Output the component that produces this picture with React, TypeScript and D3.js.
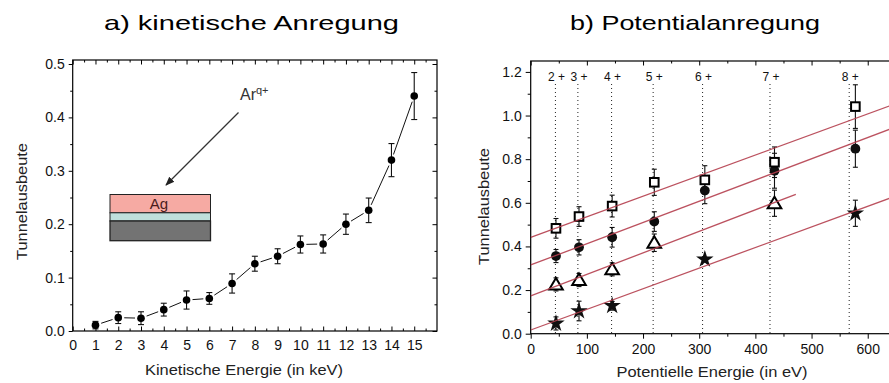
import React, { useEffect, useRef } from 'react';
import * as d3 from 'd3';

// a) kinetische Anregung
const kinEnergy = [1, 2, 3, 4, 5, 6, 7, 8, 9, 10, 11, 12, 13, 14, 15];
const kinYield = [0.011, 0.025, 0.024, 0.040, 0.058, 0.061, 0.089, 0.126, 0.140, 0.162, 0.163, 0.200, 0.226, 0.320, 0.440];
const kinErr = [0.007, 0.011, 0.012, 0.012, 0.017, 0.011, 0.018, 0.014, 0.014, 0.016, 0.017, 0.019, 0.023, 0.031, 0.044];
const kinXTicks = [0, 1, 2, 3, 4, 5, 6, 7, 8, 9, 10, 11, 12, 13, 14, 15];
const kinYTicks = [0, 0.1, 0.2, 0.3, 0.4, 0.5];

// b) Potentialanregung
const chargeStates = ['2+', '3+', '4+', '5+', '6+', '7+', '8+'];
const chargeLineE = [44, 84, 144, 218, 306, 426, 567];
const potEnergy = [45, 86, 145, 220, 310, 434, 578];
const squareYield = [0.483, 0.537, 0.585, 0.694, 0.705, 0.786, 1.041];
const squareErr = [0.045, 0.045, 0.05, 0.06, 0.065, 0.07, 0.1];
const circleYield = [0.356, 0.396, 0.442, 0.514, 0.656, 0.747, 0.848];
const circleErr = [0.03, 0.035, 0.045, 0.045, 0.06, 0.08, 0.085];
const triangleYield = [0.226, 0.246, 0.295, 0.417, null, 0.598, null];
const triangleErr = [0.03, 0.03, 0.03, 0.04, null, 0.06, null];
const starYield = [0.047, 0.104, 0.128, null, 0.341, null, 0.552];
const starErr = [0.03, 0.045, 0.02, null, 0.01, null, 0.06];
const fitIntercept = [0.442, 0.315, 0.173, 0.017];
const fitEnd = [640, 640, 472, 640];
const fitEndYield = [1.045, 0.938, 0.639, 0.622];
const potXTicks = [0, 100, 200, 300, 400, 500, 600];
const potYTicks = [0, 0.2, 0.4, 0.6, 0.8, 1.0, 1.2];

const FONT = '"Liberation Sans", Arial, sans-serif';
const FIT_COLOR = '#b5404f';

export default function App() {
  const svgRef = useRef<SVGSVGElement>(null);

  useEffect(() => {
    if (!svgRef.current) return;
    const svg = d3.select(svgRef.current);
    svg.selectAll('*').remove();

    // Titles
    svg.append('text').attr('x', 104).attr('y', 30)
      .attr('textLength', 295).attr('lengthAdjust', 'spacingAndGlyphs')
      .style('font-size', '21px').text('a) kinetische Anregung');
    svg.append('text').attr('x', 570).attr('y', 30)
      .attr('textLength', 250).attr('lengthAdjust', 'spacingAndGlyphs')
      .style('font-size', '21px').text('b) Potentialanregung');

    // ---------- Left chart ----------
    const x1 = d3.scaleLinear().domain([0, 16]).range([72.7, 437]);
    const y1 = d3.scaleLinear().domain([0, 0.5075]).range([331, 60]);
    const g1 = svg.append('g');

    const styleAxis = (sel: any, size = '14px') => {
      sel.select('.domain').remove();
      sel.selectAll('.tick line').attr('stroke', '#000');
      sel.selectAll('.tick text').style('font-size', size).style('font-family', FONT).attr('fill', '#111');
    };

    // minor ticks
    g1.append('g').attr('transform', `translate(0,${y1(0)})`)
      .call(d3.axisBottom(x1).tickValues(d3.range(0.5, 16, 1)).tickSize(-2.5).tickFormat(() => ''))
      .call(styleAxis);
    g1.append('g').attr('transform', `translate(0,${y1.range()[1]})`)
      .call(d3.axisTop(x1).tickValues(d3.range(0.5, 16, 1)).tickSize(-2.5).tickFormat(() => ''))
      .call(styleAxis);
    g1.append('g').attr('transform', `translate(0,${y1.range()[1]})`)
      .call(d3.axisTop(x1).tickValues(kinXTicks).tickSize(-4.5).tickFormat(() => ''))
      .call(styleAxis);
    g1.append('g').attr('transform', `translate(${x1.range()[1]},0)`)
      .call(d3.axisRight(y1).tickValues(d3.range(0.05, 0.5, 0.1)).tickSize(-2.5).tickFormat(() => ''))
      .call(styleAxis);
    g1.append('g').attr('transform', `translate(${x1.range()[1]},0)`)
      .call(d3.axisRight(y1).tickValues(kinYTicks).tickSize(-4.5).tickFormat(() => ''))
      .call(styleAxis);
    g1.append('g').attr('transform', `translate(${x1(0)},0)`)
      .call(d3.axisLeft(y1).tickValues(d3.range(0.05, 0.5, 0.1)).tickSize(2.5).tickFormat(() => ''))
      .call(styleAxis);

    // major ticks + labels
    g1.append('g').attr('transform', `translate(0,${y1(0)})`)
      .call(d3.axisBottom(x1).tickValues(kinXTicks).tickSize(-4.5).tickPadding(9).tickFormat(d3.format('d')))
      .call(styleAxis);
    g1.append('g').attr('transform', `translate(${x1(0)},0)`)
      .call(d3.axisLeft(y1).tickValues(kinYTicks).tickSize(4).tickPadding(4).tickFormat(d3.format('.1f')))
      .call(styleAxis);

    g1.append('rect')
      .attr('x', x1.range()[0]).attr('y', y1.range()[1])
      .attr('width', x1.range()[1] - x1.range()[0]).attr('height', y1.range()[0] - y1.range()[1])
      .attr('fill', 'none').attr('stroke', '#000').attr('stroke-width', 1.2);

    // axis titles
    g1.append('text').attr('x', 244).attr('y', 375).attr('text-anchor', 'middle')
      .attr('textLength', 198).attr('lengthAdjust', 'spacingAndGlyphs')
      .style('font-size', '15.5px').attr('fill', '#222').text('Kinetische Energie (in keV)');
    g1.append('text').attr('transform', 'translate(27,201.5) rotate(-90)').attr('text-anchor', 'middle')
      .attr('textLength', 117).attr('lengthAdjust', 'spacingAndGlyphs')
      .style('font-size', '15.5px').attr('fill', '#222').text('Tunnelausbeute');

    // inset sample
    const inset = g1.append('g');
    inset.append('rect').attr('x', 110).attr('y', 194.5).attr('width', 100.5).attr('height', 18.3)
      .attr('fill', '#f6aaa3').attr('stroke', '#222').attr('stroke-width', 1);
    inset.append('rect').attr('x', 110).attr('y', 212.8).attr('width', 100.5).attr('height', 8.2)
      .attr('fill', '#bfe0dc').attr('stroke', '#222').attr('stroke-width', 1);
    inset.append('rect').attr('x', 110).attr('y', 221).attr('width', 100.5).attr('height', 19.7)
      .attr('fill', '#737373').attr('stroke', '#222').attr('stroke-width', 1.3);
    inset.append('text').attr('x', 159).attr('y', 209).attr('text-anchor', 'middle')
      .style('font-size', '15px').attr('fill', '#4a1c1c').text('Ag');

    // arrow + ion label
    svg.append('defs').append('marker').attr('id', 'arrowhead')
      .attr('viewBox', '0 0 10 10').attr('refX', 9).attr('refY', 5)
      .attr('markerWidth', 7).attr('markerHeight', 7).attr('orient', 'auto')
      .append('path').attr('d', 'M0,1 L10,5 L0,9 Z').attr('fill', '#222');
    inset.append('line').attr('x1', 238.5).attr('y1', 112.5).attr('x2', 166).attr('y2', 185)
      .attr('stroke', '#333').attr('stroke-width', 1.3).attr('marker-end', 'url(#arrowhead)');
    const ion = inset.append('text').attr('x', 240).attr('y', 100).style('font-size', '16px').attr('fill', '#333');
    ion.append('tspan').text('Ar');
    ion.append('tspan').attr('dy', -6).style('font-size', '11px').text('q+');

    // connecting line with gaps near the markers
    const kinPts = kinEnergy.map((e, i) => [x1(e), y1(kinYield[i])]);
    for (let i = 0; i < kinPts.length - 1; i++) {
      const [ax, ay] = kinPts[i];
      const [bx, by] = kinPts[i + 1];
      const len = Math.hypot(bx - ax, by - ay);
      const gap = 6;
      if (len <= gap * 2) continue;
      const ux = (bx - ax) / len;
      const uy = (by - ay) / len;
      g1.append('line')
        .attr('x1', ax + ux * gap).attr('y1', ay + uy * gap)
        .attr('x2', bx - ux * gap).attr('y2', by - uy * gap)
        .attr('stroke', '#111').attr('stroke-width', 1);
    }

    // error bars
    const eb1 = g1.append('g').attr('stroke', '#111').attr('stroke-width', 1.1);
    kinEnergy.forEach((e, i) => {
      const cx = x1(e);
      const top = y1(kinYield[i] + kinErr[i]);
      const bot = y1(Math.max(0, kinYield[i] - kinErr[i]));
      eb1.append('line').attr('x1', cx).attr('x2', cx).attr('y1', top).attr('y2', bot);
      eb1.append('line').attr('x1', cx - 3).attr('x2', cx + 3).attr('y1', top).attr('y2', top);
      eb1.append('line').attr('x1', cx - 3).attr('x2', cx + 3).attr('y1', bot).attr('y2', bot);
    });

    g1.selectAll('.kin-dot').data(kinEnergy).enter().append('circle')
      .attr('class', 'kin-dot')
      .attr('cx', d => x1(d)).attr('cy', (d, i) => y1(kinYield[i]))
      .attr('r', 3.8).attr('fill', '#000');

    // ---------- Right chart ----------
    const x2 = d3.scaleLinear().domain([0, 640]).range([530.7, 890.2]);
    const y2 = d3.scaleLinear().domain([0, 1.25]).range([333.7, 61]);
    const g2 = svg.append('g');
    const clip = svg.select('defs').append('clipPath').attr('id', 'plot2');
    clip.append('rect').attr('x', x2.range()[0]).attr('y', y2.range()[1])
      .attr('width', x2.range()[1] - x2.range()[0]).attr('height', y2.range()[0] - y2.range()[1]);

    g2.append('g').attr('transform', `translate(0,${y2(0)})`)
      .call(d3.axisBottom(x2).tickValues(d3.range(50, 640, 100)).tickSize(3).tickFormat(() => ''))
      .call(styleAxis);
    g2.append('g').attr('transform', `translate(0,${y2.range()[1]})`)
      .call(d3.axisTop(x2).tickValues(potXTicks).tickSize(-4.5).tickFormat(() => ''))
      .call(styleAxis);
    g2.append('g').attr('transform', `translate(0,${y2.range()[1]})`)
      .call(d3.axisTop(x2).tickValues(d3.range(50, 640, 100)).tickSize(-2.5).tickFormat(() => ''))
      .call(styleAxis);
    g2.append('g').attr('transform', `translate(${x2(0)},0)`)
      .call(d3.axisLeft(y2).tickValues(d3.range(0.1, 1.25, 0.2)).tickSize(3).tickFormat(() => ''))
      .call(styleAxis);
    g2.append('g').attr('transform', `translate(0,${y2(0)})`)
      .call(d3.axisBottom(x2).tickValues(potXTicks).tickSize(5).tickPadding(5).tickFormat(d3.format('d')))
      .call(styleAxis);
    g2.append('g').attr('transform', `translate(${x2(0)},0)`)
      .call(d3.axisLeft(y2).tickValues(potYTicks).tickSize(5).tickPadding(4).tickFormat(d3.format('.1f')))
      .call(styleAxis);

    g2.append('rect')
      .attr('x', x2.range()[0]).attr('y', y2.range()[1])
      .attr('width', x2.range()[1] - x2.range()[0]).attr('height', y2.range()[0] - y2.range()[1])
      .attr('fill', 'none').attr('stroke', '#000').attr('stroke-width', 1.2);

    g2.append('text').attr('x', 712).attr('y', 377).attr('text-anchor', 'middle')
      .attr('textLength', 191).attr('lengthAdjust', 'spacingAndGlyphs')
      .style('font-size', '15.5px').attr('fill', '#222').text('Potentielle Energie (in eV)');
    g2.append('text').attr('transform', 'translate(489,206.5) rotate(-90)').attr('text-anchor', 'middle')
      .attr('textLength', 117).attr('lengthAdjust', 'spacingAndGlyphs')
      .style('font-size', '15.5px').attr('fill', '#222').text('Tunnelausbeute');

    // dotted charge-state lines
    chargeLineE.forEach((e, i) => {
      g2.append('line').attr('x1', x2(e)).attr('x2', x2(e)).attr('y1', 84).attr('y2', y2(0))
        .attr('stroke', '#222').attr('stroke-width', 1).attr('stroke-dasharray', '1,3');
      g2.append('text').attr('x', x2(e) + 1).attr('y', 80.5).attr('text-anchor', 'middle')
        .style('font-size', '12px').attr('fill', '#111').text(chargeStates[i].replace('+', ' +'));
    });

    // error bars
    const eb2 = g2.append('g').attr('stroke', '#111').attr('stroke-width', 1.1);
    const drawErr = (vals: (number | null)[], errs: (number | null)[]) => {
      potEnergy.forEach((e, i) => {
        const v = vals[i];
        const er = errs[i];
        if (v == null || er == null) return;
        const cx = x2(e);
        const top = y2(v + er);
        const bot = y2(Math.max(0, v - er));
        eb2.append('line').attr('x1', cx).attr('x2', cx).attr('y1', top).attr('y2', bot);
        eb2.append('line').attr('x1', cx - 2.5).attr('x2', cx + 2.5).attr('y1', top).attr('y2', top);
        eb2.append('line').attr('x1', cx - 2.5).attr('x2', cx + 2.5).attr('y1', bot).attr('y2', bot);
      });
    };
    drawErr(squareYield, squareErr);
    drawErr(circleYield, circleErr);
    drawErr(triangleYield, triangleErr);
    drawErr(starYield, starErr);

    // markers
    potEnergy.forEach((e, i) => {
      const cx = x2(e);
      const t = triangleYield[i];
      if (t != null) {
        const cy = y2(t);
        g2.append('path')
          .attr('d', `M${cx},${cy - 6.5} L${cx + 6.8},${cy + 5} L${cx - 6.8},${cy + 5} Z`)
          .attr('fill', '#fff').attr('stroke', '#000').attr('stroke-width', 2);
      }
      const s = starYield[i];
      if (s != null) {
        g2.append('path').attr('transform', `translate(${cx},${y2(s)})`)
          .attr('d', d3.symbol().type(d3.symbolStar).size(95)())
          .attr('fill', '#111');
      }
      g2.append('circle').attr('cx', cx).attr('cy', y2(circleYield[i])).attr('r', 4.9).attr('fill', '#111');
      g2.append('rect').attr('x', cx - 4.3).attr('y', y2(squareYield[i]) - 4.3)
        .attr('width', 8.6).attr('height', 8.6)
        .attr('fill', '#fff').attr('stroke', '#000').attr('stroke-width', 2);
    });

    // linear fits
    const fits = g2.append('g').attr('clip-path', 'url(#plot2)');
    fitIntercept.forEach((b, i) => {
      fits.append('line')
        .attr('x1', x2(0)).attr('y1', y2(b))
        .attr('x2', x2(fitEnd[i])).attr('y2', y2(fitEndYield[i]))
        .attr('stroke', FIT_COLOR).attr('stroke-width', 1.3).attr('opacity', 0.9);
    });
  }, []);

  return (
    <svg
      ref={svgRef}
      width={889}
      height={383}
      viewBox="0 0 889 383"
      style={{ position: 'absolute', left: 0, top: 0, background: '#fff', fontFamily: FONT }}
    />
  );
}
